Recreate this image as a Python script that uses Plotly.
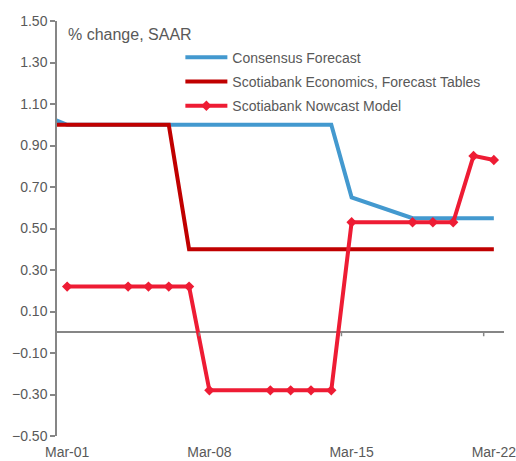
import plotly.graph_objects as go

# ---- data ----
consensus_dates = ["2019-02-28", "2019-03-01", "2019-03-04", "2019-03-05", "2019-03-06", "2019-03-07",
                   "2019-03-08", "2019-03-11", "2019-03-12", "2019-03-13", "2019-03-14", "2019-03-15",
                   "2019-03-18", "2019-03-19", "2019-03-20", "2019-03-21", "2019-03-22"]
consensus_vals = [1.04, 1.00, 1.00, 1.00, 1.00, 1.00, 1.00, 1.00, 1.00, 1.00, 1.00, 0.65,
                  0.55, 0.55, 0.55, 0.55, 0.55]

tables_dates = consensus_dates
tables_vals = [1.00, 1.00, 1.00, 1.00, 1.00, 0.40, 0.40, 0.40, 0.40, 0.40, 0.40, 0.40,
               0.40, 0.40, 0.40, 0.40, 0.40]

nowcast_dates = consensus_dates[1:]
nowcast_vals = [0.22, 0.22, 0.22, 0.22, 0.22, -0.28, -0.28, -0.28, -0.28, -0.28, 0.53,
                0.53, 0.53, 0.53, 0.85, 0.83]

tick_dates = ["2019-03-01", "2019-03-08", "2019-03-15", "2019-03-22"]
tick_labels = ["Mar-01", "Mar-08", "Mar-15", "Mar-22"]
boundary_ticks = ["2019-03-07 12:00", "2019-03-14 12:00", "2019-03-21 12:00"]

names = ["Consensus Forecast", "Scotiabank Economics, Forecast Tables", "Scotiabank Nowcast Model"]
colors = ["#4399CF", "#C00000", "#EE1C34"]

FONT = "Liberation Sans, Arial, sans-serif"
GRAY_TXT = "#595959"
AXIS = "#868686"

fig = go.Figure()
fig.add_trace(go.Scatter(x=consensus_dates, y=consensus_vals, name=names[0], mode="lines",
                         line=dict(color=colors[0], width=4), legendgroup="a"))
fig.add_trace(go.Scatter(x=tables_dates, y=tables_vals, name=names[1], mode="lines",
                         line=dict(color=colors[1], width=4), legendgroup="b"))
fig.add_trace(go.Scatter(x=nowcast_dates, y=nowcast_vals, name=names[2], mode="lines+markers",
                         line=dict(color=colors[2], width=4),
                         marker=dict(symbol="diamond", size=8, color=colors[2]), legendgroup="c"))

for d in boundary_ticks:
    fig.add_shape(type="line", xref="x", yref="y", x0=d, x1=d, y0=0, y1=-4,
                  ysizemode="pixel", yanchor=0, line=dict(color=AXIS, width=1.5))

fig.add_annotation(text="% change, SAAR", xref="paper", yref="paper", x=0.0205, y=0.993,
                   xanchor="left", yanchor="top", showarrow=False,
                   font=dict(family=FONT, size=16, color=GRAY_TXT))

fig.update_layout(
    width=516, height=461,
    margin=dict(l=57, r=12, t=21, b=25),
    paper_bgcolor="white", plot_bgcolor="white",
    font=dict(family=FONT, size=14, color=GRAY_TXT),
    showlegend=True,
    legend=dict(x=0.276, y=0.950, xanchor="left", yanchor="top", bgcolor="rgba(0,0,0,0)",
                itemwidth=42,
                traceorder="grouped", tracegroupgap=3, font=dict(family=FONT, size=14, color=GRAY_TXT)),
    xaxis=dict(type="date", range=["2019-02-28 12:00", "2019-03-22 12:00"], automargin=False,
               tickvals=tick_dates, ticktext=tick_labels, ticks="outside", ticklen=3,
               tickcolor="rgba(0,0,0,0)", ticklabeloverflow="allow", showgrid=False,
               showline=False, zeroline=False, tickfont=dict(size=14, color=GRAY_TXT)),
    yaxis=dict(range=[-0.5, 1.5], tick0=-0.5, dtick=0.2, tickformat=".2f", automargin=False,
               showgrid=False, showline=True, linecolor=AXIS, linewidth=1.5,
               ticks="outside", ticklen=5, tickcolor=AXIS, tickwidth=1.5,
               zeroline=True, zerolinecolor=AXIS, zerolinewidth=1.5,
               tickfont=dict(size=14, color=GRAY_TXT)),
)

fig.write_html("out.html", config={"displayModeBar": False},
               post_script="document.body.style.margin='0';document.body.style.overflow='hidden';")
